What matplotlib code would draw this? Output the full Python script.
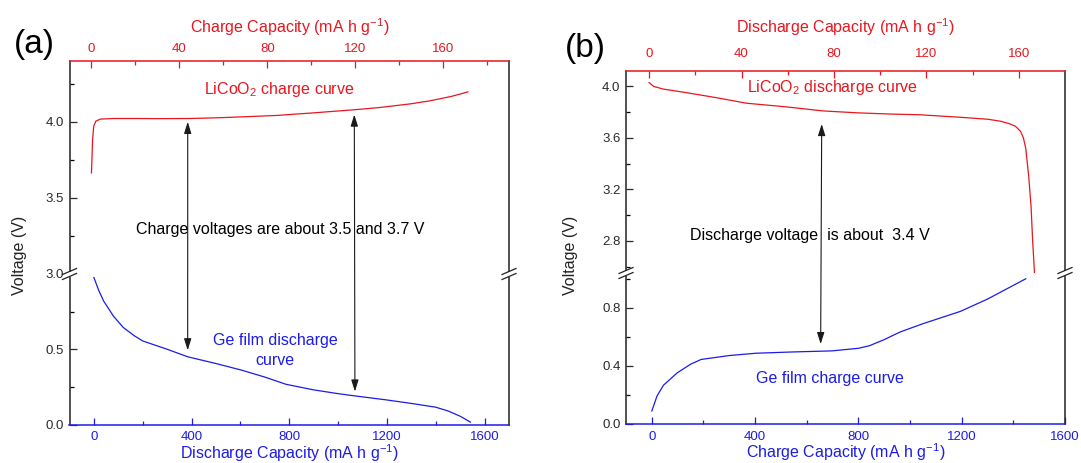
"""
Full cell voltage curves, LiCoO2 vs Ge film, broken y axis
"""

import matplotlib
matplotlib.use("Agg")
from matplotlib import pyplot as plt
from matplotlib.patches import ConnectionPatch, Rectangle
from matplotlib.lines import Line2D

plt.rcParams['font.family'] = ['Liberation Sans', 'DejaVu Sans']
plt.rcParams['mathtext.default'] = 'regular'

RED = '#e8161e'
BLUE = '#1c1ce6'

# (a) LiCoO2 charge curve (top axis, mA h g-1 vs V)
a_red_cap = [0, 0.5, 1, 2, 4, 10, 20, 30, 45, 60, 84, 100, 120, 131, 145, 154, 164, 171.3]
a_red_v = [3.665, 3.88, 3.97, 4.005, 4.018, 4.022, 4.022, 4.021, 4.022, 4.028, 4.042, 4.058,
           4.08, 4.094, 4.118, 4.138, 4.168, 4.197]
# (a) Ge film discharge curve (bottom axis)
a_blue_cap = [0, 20, 40, 80, 120, 165, 200, 300, 384, 500, 603, 700, 787, 900, 1000, 1069,
              1200, 1300, 1400, 1450, 1500, 1542]
a_blue_v = [0.976, 0.89, 0.82, 0.72, 0.645, 0.59, 0.555, 0.50, 0.45, 0.405, 0.362, 0.315,
            0.267, 0.23, 0.205, 0.19, 0.163, 0.14, 0.115, 0.09, 0.055, 0.016]

# (b) LiCoO2 discharge curve
b_red_cap = [0, 2, 6, 15, 30, 42, 60, 75, 90, 105, 117, 135, 146.6, 152, 156, 158.6, 160.8,
             162, 163, 164.3, 165.3, 166, 166.8]
b_red_v = [4.03, 4.0, 3.98, 3.955, 3.91, 3.87, 3.84, 3.81, 3.795, 3.785, 3.78, 3.76, 3.745,
           3.73, 3.71, 3.69, 3.65, 3.6, 3.52, 3.3, 3.07, 2.8, 2.55]
# (b) Ge film charge curve
b_blue_cap = [0, 20, 45, 98, 150, 191, 300, 404, 550, 696, 800, 843, 900, 962, 1050, 1195,
              1300, 1448]
b_blue_v = [0.087, 0.19, 0.265, 0.35, 0.41, 0.443, 0.47, 0.486, 0.495, 0.502, 0.52, 0.538,
            0.58, 0.633, 0.69, 0.775, 0.86, 1.0]

# ticks
small_cap_major = [0, 40, 80, 120, 160]
big_cap_major = [0, 400, 800, 1200, 1600]
big_cap_minor = [200, 600, 1000, 1400]
a_small_cap_minor = [20, 60, 100, 140, 180]
b_small_cap_minor = [20, 60, 100, 140]
a_hi_major = [3.0, 3.5, 4.0]
a_hi_minor = [3.25, 3.75, 4.25]
a_lo_major = [0.0, 0.5]
a_lo_minor = [0.25, 0.75]
b_hi_major = [2.8, 3.2, 3.6, 4.0]
b_hi_minor = [2.6, 3.0, 3.4, 3.8]
b_lo_major = [0.0, 0.4, 0.8]
b_lo_minor = [0.2, 0.6, 1.0]

W, H = 1081, 463
FS = 11.5      # annotation / axis label size
TS = 9.5       # tick label size
fig = plt.figure(figsize=(W / 100, H / 100), dpi=100)


def px_axes(left, right, top, bottom):
    # pixel box -> figure fractions
    return fig.add_axes([left / W, (H - bottom) / H, (right - left) / W, (bottom - top) / H])


def style(ax, which, color, xpad):
    ax.tick_params(axis='both', which='both', direction='in', width=0.9)
    ax.tick_params(axis='both', which='major', length=5)
    ax.tick_params(axis='both', which='minor', length=2.8)
    ax.tick_params(axis='y', labelsize=TS, colors='#2a2a2a', pad=4, right=False)
    for s in ['left', 'right']:
        ax.spines[s].set_linewidth(1.1)
        ax.spines[s].set_color('#222222')
    if which == 'top':
        ax.xaxis.tick_top()
        ax.xaxis.set_label_position('top')
        ax.spines['bottom'].set_visible(False)
        ax.spines['top'].set_color(color)
        ax.spines['top'].set_linewidth(1.1)
        ax.tick_params(axis='x', which='both', top=True, bottom=False, colors=color,
                       labelsize=TS, pad=xpad)
    else:
        ax.spines['top'].set_visible(False)
        ax.spines['bottom'].set_color(color)
        ax.spines['bottom'].set_linewidth(1.1)
        ax.tick_params(axis='x', which='both', top=False, bottom=True, colors=color,
                       labelsize=TS, pad=xpad)


def break_marks(xpx, ypx):
    # the little // on the spine
    fig.add_artist(Rectangle(((xpx - 3) / W, (H - ypx - 2.5) / H), 6 / W, 5 / H,
                             transform=fig.transFigure, facecolor='white', edgecolor='none',
                             zorder=5))
    for dy in (-2.5, 2.5):
        cy = H - ypx + dy
        fig.add_artist(Line2D([(xpx - 7) / W, (xpx + 7) / W], [(cy - 3) / H, (cy + 3) / H],
                              transform=fig.transFigure, color='#222222', lw=0.9, zorder=6))


def arrow(ax_hi, xy_hi, ax_lo, xy_lo):
    con = ConnectionPatch(xyA=xy_hi, coordsA=ax_hi.transData, xyB=xy_lo, coordsB=ax_lo.transData,
                          arrowstyle='<|-|>,head_length=0.7,head_width=0.22', mutation_scale=10,
                          color='#1a1a1a', lw=0.8, zorder=4)
    fig.add_artist(con)


# ---------------- (a) ----------------
a_left, a_right, a_top, a_brk, a_bot = 69.5, 509, 61, 274, 424.5
ax_a_hi = px_axes(a_left, a_right, a_top, a_brk)
ax_a_lo = px_axes(a_left, a_right, a_brk, a_bot)

ax_a_hi.plot(a_red_cap, a_red_v, color=RED, lw=0.9)
ax_a_hi.set_xlim(-10, 190)
ax_a_hi.set_ylim(3.0, 4.4)
ax_a_hi.set_xticks(small_cap_major)
ax_a_hi.set_xticks(a_small_cap_minor, minor=True)
ax_a_hi.set_yticks(a_hi_major)
ax_a_hi.set_yticks(a_hi_minor, minor=True)
ax_a_hi.set_yticklabels(['3.0', '3.5', '4.0'])
style(ax_a_hi, 'top', RED, 4)
ax_a_hi.set_xlabel('Charge Capacity (mA h g$^{-1}$)', color=RED, fontsize=FS, labelpad=7.5)

ax_a_lo.plot(a_blue_cap, a_blue_v, color=BLUE, lw=0.9)
ax_a_lo.set_xlim(-100, 1700)
ax_a_lo.set_ylim(0, 1.0)
ax_a_lo.set_xticks(big_cap_major)
ax_a_lo.set_xticks(big_cap_minor, minor=True)
ax_a_lo.set_yticks(a_lo_major)
ax_a_lo.set_yticks(a_lo_minor, minor=True)
ax_a_lo.set_yticklabels(['0.0', '0.5'])
style(ax_a_lo, 'bottom', BLUE, 5)
ax_a_lo.set_xlabel('Discharge Capacity (mA h g$^{-1}$)', color=BLUE, fontsize=FS, labelpad=-1)

ax_a_hi.text(85.4, 4.213, 'LiCoO$_2$ charge curve', color=RED, fontsize=FS,
             ha='center', va='center')
ax_a_hi.text(86, 3.292, 'Charge voltages are about 3.5 and 3.7 V', color='black',
             fontsize=FS, ha='center', va='center', zorder=1)
ax_a_lo.text(742, 0.49, 'Ge film discharge\ncurve', color=BLUE, fontsize=FS,
             ha='center', va='center', linespacing=1.4)

arrow(ax_a_hi, (43.8, 4.0), ax_a_lo, (384, 0.493))
arrow(ax_a_hi, (119.6, 4.048), ax_a_lo, (1069, 0.219))

break_marks(a_left, a_brk)
break_marks(a_right, a_brk)

fig.text(20 / W, (H - 255) / H, 'Voltage (V)', rotation=90, fontsize=FS,
         ha='center', va='center', color='#222222')
fig.text(34 / W, (H - 45) / H, '(a)', fontsize=24, ha='center', va='center')

# ---------------- (b) ----------------
b_left, b_right, b_top, b_brk, b_bot = 626, 1065, 71, 273, 423.6
ax_b_hi = px_axes(b_left, b_right, b_top, b_brk)
ax_b_lo = px_axes(b_left, b_right, b_brk, b_bot)

ax_b_hi.plot(b_red_cap, b_red_v, color=RED, lw=0.9)
ax_b_hi.set_xlim(-10, 180)
ax_b_hi.set_ylim(2.55, 4.12)
ax_b_hi.set_xticks(small_cap_major)
ax_b_hi.set_xticks(b_small_cap_minor, minor=True)
ax_b_hi.set_yticks(b_hi_major)
ax_b_hi.set_yticks(b_hi_minor, minor=True)
ax_b_hi.set_yticklabels(['2.8', '3.2', '3.6', '4.0'])
style(ax_b_hi, 'top', RED, 7.8)
ax_b_hi.set_xlabel('Discharge Capacity (mA h g$^{-1}$)', color=RED, fontsize=FS, labelpad=11)

ax_b_lo.plot(b_blue_cap, b_blue_v, color=BLUE, lw=0.9)
ax_b_lo.set_xlim(-100, 1600)
ax_b_lo.set_ylim(0, 1.04)
ax_b_lo.set_xticks(big_cap_major)
ax_b_lo.set_xticks(big_cap_minor, minor=True)
ax_b_lo.set_yticks(b_lo_major)
ax_b_lo.set_yticks(b_lo_minor, minor=True)
ax_b_lo.set_yticklabels(['0.0', '0.4', '0.8'])
style(ax_b_lo, 'bottom', BLUE, 5)
ax_b_lo.set_xlabel('Charge Capacity (mA h g$^{-1}$)', color=BLUE, fontsize=FS, labelpad=-1)

ax_b_hi.text(79.4, 3.99, 'LiCoO$_2$ discharge curve', color=RED, fontsize=FS,
             ha='center', va='center')
ax_b_hi.text(69.7, 2.843, 'Discharge voltage  is about  3.4 V', color='black',
             fontsize=FS, ha='center', va='center', zorder=1)
ax_b_lo.text(689.7, 0.308, 'Ge film charge curve', color=BLUE, fontsize=FS,
             ha='center', va='center')

arrow(ax_b_hi, (74.7, 3.708), ax_b_lo, (653.8, 0.549))

break_marks(b_left, b_brk)
break_marks(b_right, b_brk)

fig.text(570 / W, (H - 255) / H, 'Voltage (V)', rotation=90, fontsize=FS,
         ha='center', va='center', color='#222222')
fig.text(585 / W, (H - 48) / H, '(b)', fontsize=24, ha='center', va='center')

fig.savefig('out.png', dpi=100)
